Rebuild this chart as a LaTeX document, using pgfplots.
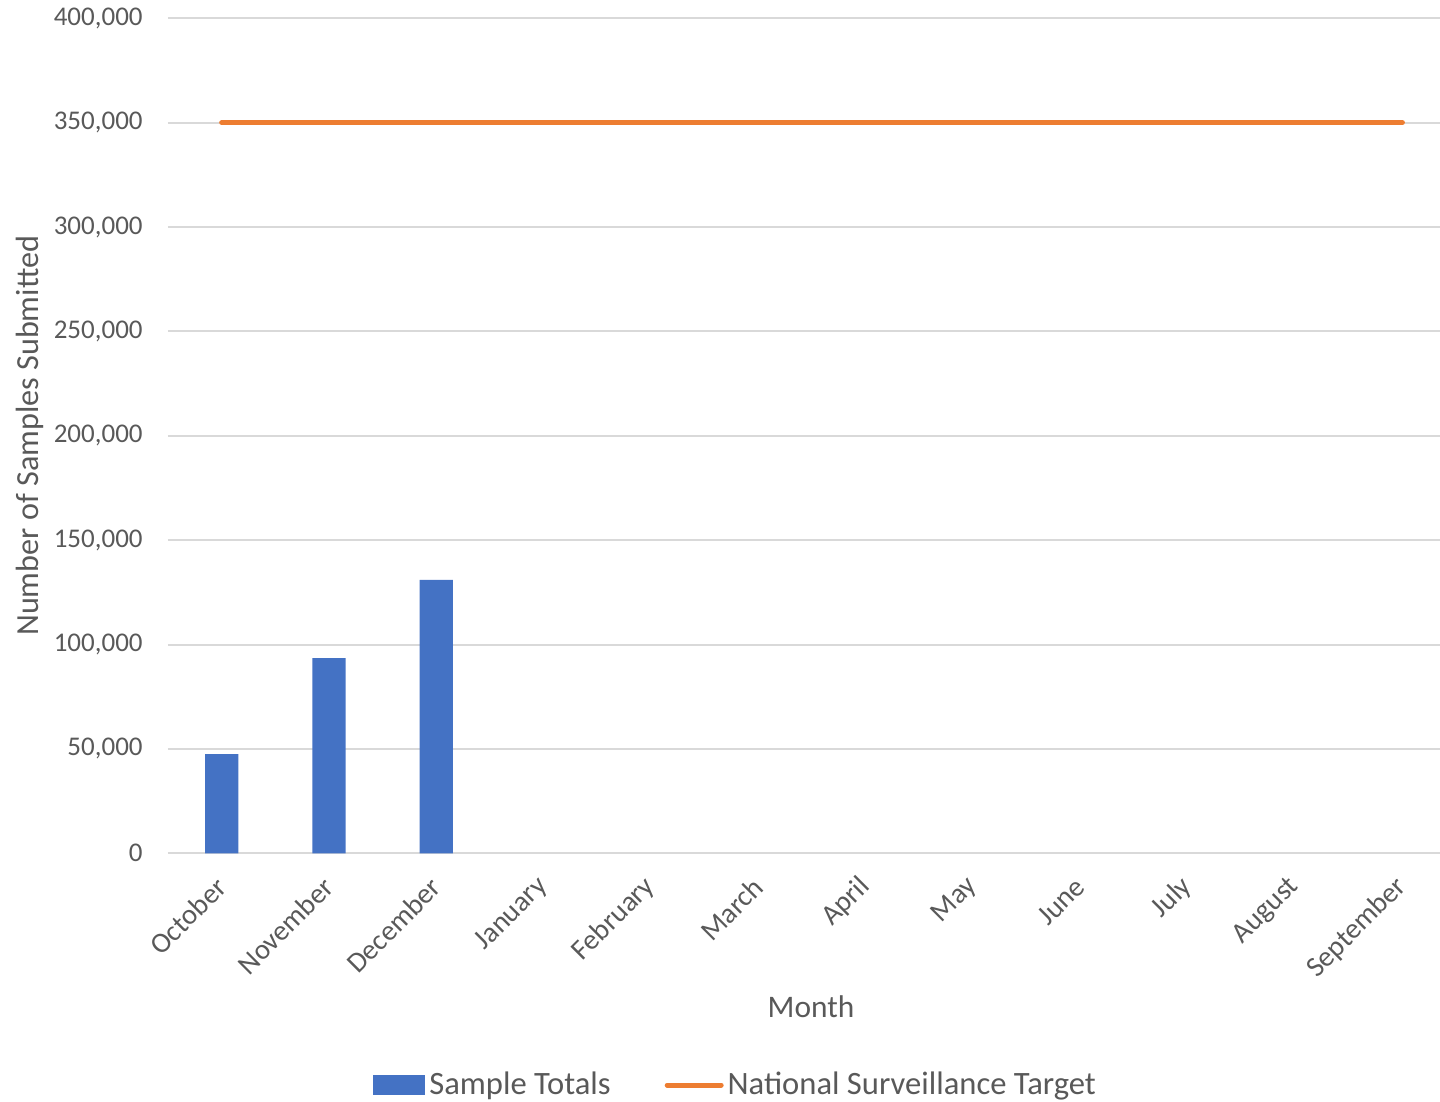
\documentclass[border=0pt]{standalone}
\usepackage{fontspec}
\setmainfont{Carlito}
\usepackage{pgfplots}
\pgfplotsset{compat=1.18}
\definecolor{barblue}{HTML}{4472C4}
\definecolor{lineorange}{HTML}{ED7D31}
\definecolor{txtgray}{HTML}{595959}
\definecolor{gridgray}{HTML}{D9D9D9}
\begin{document}
\begin{tikzpicture}
\useasboundingbox (-84pt,-124.35pt) rectangle (636pt,426.65pt);
\begin{axis}[
    at={(0,0)}, anchor=south west,
    scale only axis,
    width=636pt, height=417.5pt,
    xmin=-0.5, xmax=11.35,
    ymin=0, ymax=400000,
    ytick={0,50000,100000,150000,200000,250000,300000,350000,400000},
    yticklabels={0,{50,000},{100,000},{150,000},{200,000},{250,000},{300,000},{350,000},{400,000}},
    xtick={0,...,11},
    xticklabels={October,November,December,January,February,March,April,May,June,July,August,September},
    scaled y ticks=false,
    axis line style={draw=none},
    tick style={draw=none},
    ymajorgrids, grid style={gridgray, line width=1pt},
    yticklabel shift=12.5pt,
    xticklabel shift=14.5pt,
    yticklabel style={font=\fontsize{13.5}{16}\selectfont, text=txtgray, inner sep=0pt},
    xticklabel style={font=\fontsize{14.3}{17}\selectfont, text=txtgray, inner sep=0pt, rotate=45, anchor=east},
    xlabel={Month}, ylabel={Number of Samples Submitted},
    every axis x label/.style={at={(axis description cs:0.5055,-0.1842)}, anchor=center, font=\fontsize{15.7}{18}\selectfont, text=txtgray},
    every axis y label/.style={at={(axis description cs:-0.1085,0.5)}, rotate=90, anchor=center, font=\fontsize{16.1}{18}\selectfont, text=txtgray},
    legend columns=2,
    legend style={at={(0.447,-0.2775)}, anchor=center, draw=none, fill=none,
        font=\fontsize{16.3}{19}\selectfont, text=txtgray,
        nodes={inner sep=2pt},
        /tikz/every even column/.append style={column sep=25pt}},
]
\addplot[ybar, bar width=0.31, fill=barblue, draw=none,
    legend image code/.code={\fill[barblue] (0pt,-5pt) rectangle (26pt,5pt);}]
coordinates {(0,47460) (1,93480) (2,131000)};
\addlegendentry{Sample Totals}
\addplot[lineorange, line width=2.5pt, line cap=round, mark=none,
    legend image code/.code={\draw[lineorange, line width=2.5pt, line cap=round] (0pt,0pt) -- (27pt,0pt);}]
coordinates {(0,350000) (1,350000) (2,350000) (3,350000) (4,350000) (5,350000)
 (6,350000) (7,350000) (8,350000) (9,350000) (10,350000) (11,350000)};
\addlegendentry{National Surveillance Target}
\end{axis}
\end{tikzpicture}
\end{document}
